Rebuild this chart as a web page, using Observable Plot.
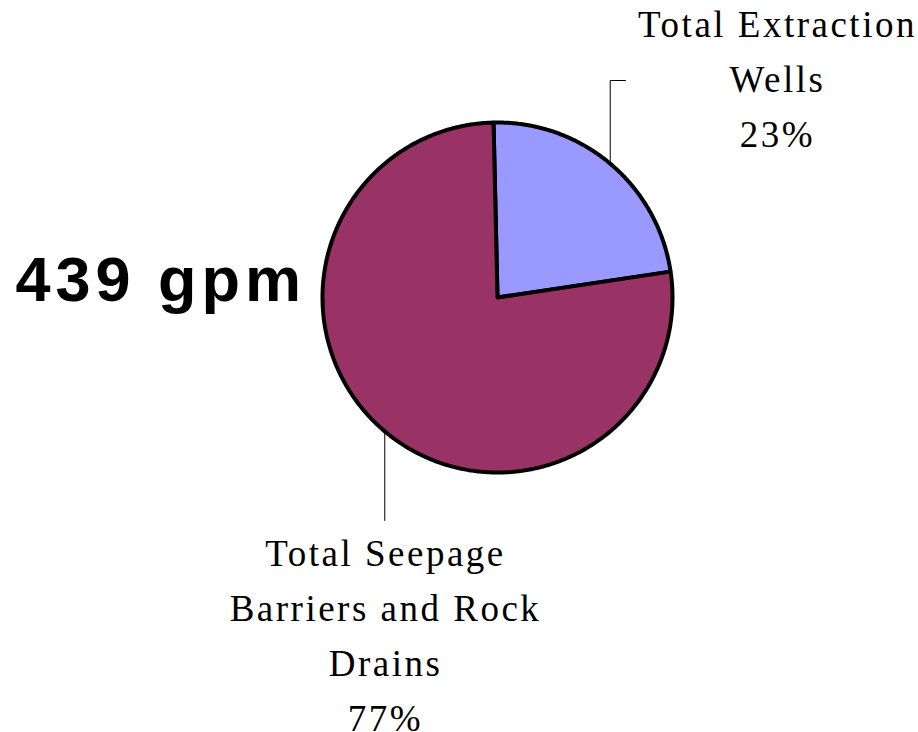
<!DOCTYPE html>
<html>
<head>
<meta charset="utf-8">
<script src="https://cdn.jsdelivr.net/npm/d3@7"></script>
<script src="https://cdn.jsdelivr.net/npm/@observablehq/plot@0.6"></script>
<style>
  html, body { margin: 0; padding: 0; background: #fff; }
  #chart svg { display: block; }
  g[font-family^="Liberation Serif"] text { letter-spacing: 2.5px; }
  g[font-weight="bold"] text { letter-spacing: 5px; }
</style>
</head>
<body>
<div id="chart"></div>
<script>
// Flow split between the two collection systems
const categories = ["Total Extraction Wells", "Total Seepage Barriers and Rock Drains"];
const labelLines = ["Total Extraction\nWells", "Total Seepage\nBarriers and Rock\nDrains"];
const shares = [23, 77];          // percent of total flow
const colors = ["#9999ff", "#993366"];
const totalFlow = 439;            // gpm

// Layout: canvas, pie centre/radius in pixels, the rest in pie-radius units
const W = 918, H = 732;
const cx = 497, cy = 297, R = 175;
const startAngle = -1.3;          // degrees, clockwise from 12 o'clock
const toUX = px => (px - cx) / R;
const toUY = py => (cy - py) / R;
const labelPos = [
  {x: toUX(777), y: toUY(-3), leaderEnd: toUY(80), tickEnd: toUX(625)},
  {x: toUX(385), y: toUY(526), leaderEnd: toUY(520)}
];

// Slice outlines built from the shares
const sum = d3.sum(shares);
const rad = d => d * Math.PI / 180;
const slices = [];
const outline = [];
let a = startAngle;
shares.forEach((s, i) => {
  const a0 = a, a1 = a + s / sum * 360;
  slices.push({category: categories[i], a0, a1, mid: (a0 + a1) / 2});
  outline.push({category: categories[i], x: 0, y: 0});
  const n = Math.ceil((a1 - a0) * 2);
  for (let k = 0; k <= n; ++k) {
    const t = rad(a0 + (a1 - a0) * k / n);
    outline.push({category: categories[i], x: Math.sin(t), y: Math.cos(t)});
  }
  outline.push({category: categories[i], x: 0, y: 0});
  a = a1;
});

// Label text and leader lines, anchored at each slice's mid-angle
const labels = slices.map((d, i) => ({
  text: `${labelLines[i]}\n${d3.format(".0%")(shares[i] / sum)}`,
  x: labelPos[i].x, y: labelPos[i].y
}));
const leaders = [];
slices.forEach((d, i) => {
  const ax = Math.sin(rad(d.mid)), ay = Math.cos(rad(d.mid));
  leaders.push({id: i, x: ax, y: ay});
  leaders.push({id: i, x: ax, y: labelPos[i].leaderEnd});
  if (labelPos[i].tickEnd !== undefined) leaders.push({id: i, x: labelPos[i].tickEnd, y: labelPos[i].leaderEnd});
});

const chart = Plot.plot({
  width: W,
  height: H,
  margin: 0,
  x: {domain: [toUX(0), toUX(W)], axis: null},
  y: {domain: [toUY(H), toUY(0)], axis: null},
  color: {domain: categories, range: colors},
  style: {background: "#fff", overflow: "hidden"},
  marks: [
    Plot.line(outline, {
      x: "x", y: "y", z: "category", fill: "category",
      stroke: "#000", strokeWidth: 4, strokeLinejoin: "miter", curve: "linear"
    }),
    Plot.line(leaders, {
      x: "x", y: "y", z: "id", stroke: "#000", strokeWidth: 1, strokeLinejoin: "miter"
    }),
    Plot.text(labels, {
      x: "x", y: "y", text: "text",
      fontSize: 37, lineHeight: 1.49, lineAnchor: "top", textAnchor: "middle",
      fontFamily: "Liberation Serif, Times New Roman, serif", fill: "#000"
    }),
    Plot.text([`${totalFlow} gpm`], {
      x: toUX(15), y: toUY(256), text: d => d,
      fontSize: 63, fontWeight: "bold", lineAnchor: "top", textAnchor: "start",
      fontFamily: "Liberation Sans, Arial, sans-serif", fill: "#000"
    })
  ]
});
document.getElementById("chart").appendChild(chart);
</script>
</body>
</html>
